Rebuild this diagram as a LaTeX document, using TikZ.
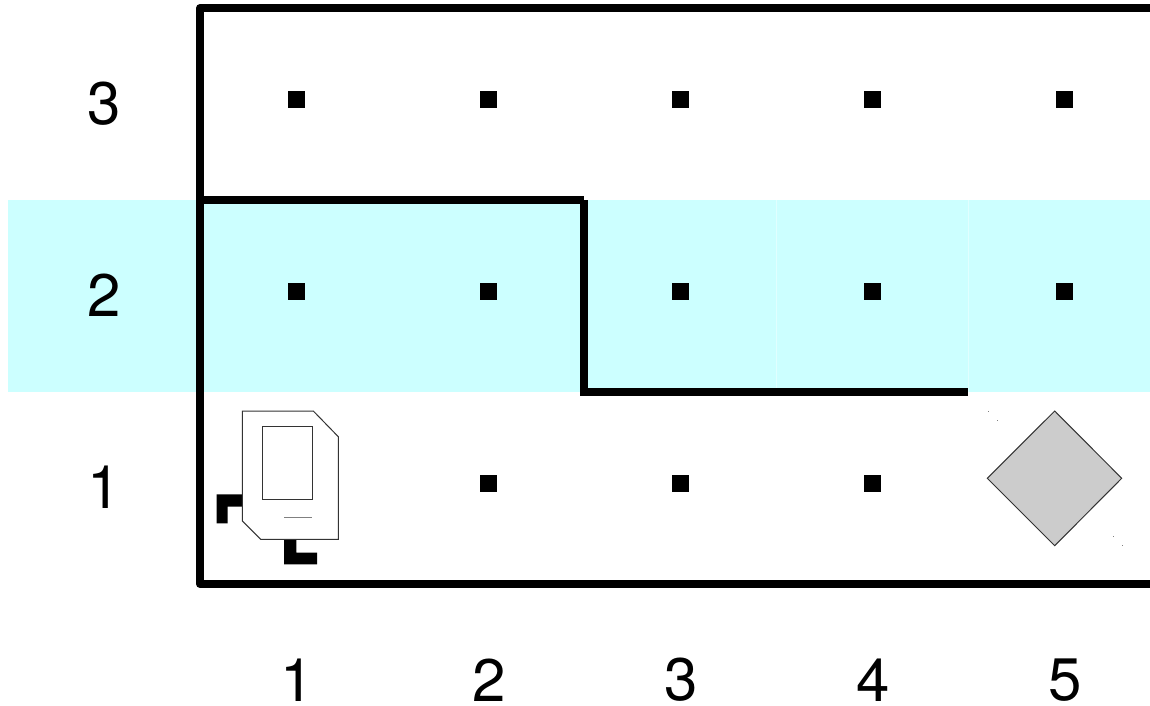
\documentclass[tikz,border=0pt]{standalone}
\usepackage{fontspec}
\setmainfont{TeX Gyre Heros}
\usetikzlibrary{calc}
\definecolor{faixa}{HTML}{CCFFFF}
\definecolor{cinza}{HTML}{CCCCCC}
\tikzset{
wall/.style={draw=black, line width=8pt, line cap=butt, line join=round}
        }
\tikzset{
cell/.style={fill=black, minimum size=17pt, inner sep=0pt, outer sep=0pt}
        }
\tikzset{
digit/.style={font=\fontsize{60pt}{70pt}\selectfont, inner sep=0pt}
        }
\tikzset{
thinline/.style={draw=black!80, line width=1pt}
        }
\tikzset{
seam/.style={draw=faixa!60!white, line width=0.8pt}
        }
\begin{document}
\begin{tikzpicture}[x=1pt,y=-1pt]
    \useasboundingbox (0,0) rectangle (1150,706);

    % FAIXA
    \path[fill=faixa] (8,200) rectangle (1150,392);
    \path[seam] (776.7,200) -- (776.7,388);
    \path[seam] (968.7,200) -- (968.7,392);

    % PAREDES
    \path[wall] (1150,8) -- (200,8) -- (200,584) -- (1150,584);
    \path[wall] (200,200) -- (584,200);
    \path[wall] (584,200) -- (584,392);
    \path[wall] (580,392) -- (968.3,392);

    % PONTOS
    \node[cell] (c13) at (296.5,99.5) {};
    \node[cell] (c23) at (488.5,99.5) {};
    \node[cell] (c33) at (680.5,99.5) {};
    \node[cell] (c43) at (872.5,99.5) {};
    \node[cell] (c53) at (1064.5,99.5) {};
    \node[cell] (c12) at (296.5,291.5) {};
    \node[cell] (c22) at (488.5,291.5) {};
    \node[cell] (c32) at (680.5,291.5) {};
    \node[cell] (c42) at (872.5,291.5) {};
    \node[cell] (c52) at (1064.5,291.5) {};
    \node[cell] (c21) at (488.5,483.5) {};
    \node[cell] (c31) at (680.5,483.5) {};
    \node[cell] (c41) at (872.5,483.5) {};

    % ROTULOS
    \node[digit] (y3) at (104.6,103.5) {3};
    \node[digit] (y2) at (104.6,295.5) {2};
    \node[digit] (y1) at (104.6,487.5) {1};
    \node[digit] (x1) at (296.8,680) {1};
    \node[digit] (x2) at (488.8,680) {2};
    \node[digit] (x3) at (680.8,680) {3};
    \node[digit] (x4) at (872.8,680) {4};
    \node[digit] (x5) at (1064.8,680) {5};

    % ROBO
    \path[fill=black] (216.7,494.3) -- (243,494.3) -- (243,506.7) -- (227.7,506.7) --
      (227.7,523.3) -- (216.7,523.3) -- cycle;
    \path[fill=black] (284,539) -- (296.3,539) -- (296.3,552.7) -- (317,552.7) --
      (317,564.3) -- (284,564.3) -- cycle;
    \path[thinline,fill=white] (242.3,411) -- (313.3,411) -- (338.3,436.7) -- (338.3,539.3) --
      (260.7,539.3) -- (242.3,521) -- cycle;
    \path[thinline] (262.7,426) rectangle (312.7,499.3);
    \path[draw=black!50,line width=1pt] (284,517.7) -- (312,517.7);

    % CAIXA
    \path[thinline,fill=cinza] (1054.7,411) -- (1121.7,478.3) -- (1054.7,545.7) --
      (987.3,478.3) -- cycle;
    \path[fill=black!50] (987.5,410.5) rectangle +(1.2,1);
    \path[fill=black!50] (997.2,420.2) rectangle +(1,1);
    \path[fill=black!50] (1112.6,535.6) rectangle +(1.2,1);
    \path[fill=black!50] (1121.9,545.2) rectangle +(1,1);

\end{tikzpicture}
\end{document}
